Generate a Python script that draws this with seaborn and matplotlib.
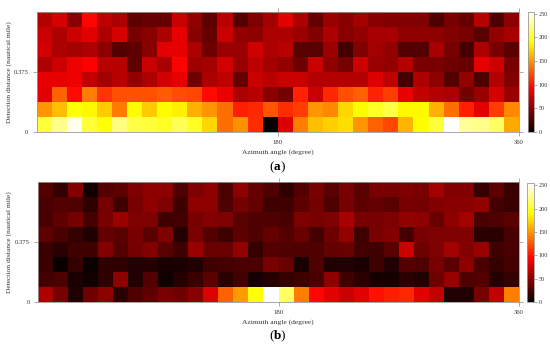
import numpy as np
import matplotlib
matplotlib.use("Agg")
import matplotlib.pyplot as plt
import seaborn as sns

# values, top row first, 32 azimuth bins
panel_a = [
    [65,78,48,95,68,62,32,35,35,72,52,32,66,28,44,58,82,62,35,55,48,58,48,45,45,45,25,42,35,65,25,50],
    [72,62,74,82,62,78,42,48,62,84,48,35,72,52,50,62,62,55,45,62,48,52,60,60,50,50,50,45,42,30,52,60],
    [76,62,58,62,50,28,32,48,82,84,62,38,55,55,75,62,66,30,30,55,22,45,58,52,28,28,60,42,22,62,42,30],
    [62,74,86,93,66,66,32,72,60,94,56,58,76,54,68,58,52,38,72,50,40,74,55,52,65,42,42,38,35,84,74,42],
    [84,84,87,70,58,66,52,62,76,84,38,62,68,34,72,66,72,72,64,64,64,64,80,68,22,62,50,28,52,25,64,46],
    [82,130,97,141,113,123,124,124,128,122,120,97,85,62,66,48,40,106,72,108,123,130,106,116,85,70,64,62,40,55,78,55],
    [150,166,192,188,170,140,190,170,190,185,160,150,135,105,108,125,110,116,150,145,175,190,200,208,188,188,160,135,105,82,116,145],
    [205,225,250,205,192,222,208,205,200,212,200,175,135,148,110,0,80,141,166,172,178,150,130,120,162,190,205,255,228,225,215,158],
]
panel_b = [
    [28,15,45,3,28,32,44,50,50,26,44,50,25,50,34,26,14,28,42,30,42,30,42,42,44,42,58,46,46,16,32,18],
    [24,28,26,14,40,20,42,50,44,20,50,50,26,40,34,20,20,32,40,25,42,32,34,30,42,40,46,48,48,52,22,18],
    [24,32,40,22,42,55,44,44,20,22,42,46,44,30,26,26,24,44,42,44,60,42,42,44,52,50,36,50,58,24,26,30],
    [32,24,16,8,34,30,42,30,44,10,42,28,20,32,26,34,28,36,22,38,52,20,42,46,22,42,44,44,46,12,12,24],
    [18,12,20,20,46,28,40,46,30,20,54,36,36,52,16,28,26,26,26,34,36,22,20,30,74,38,44,58,46,54,20,24],
    [18,0,16,0,14,14,8,10,5,6,8,20,22,24,24,42,36,6,26,8,8,6,20,8,28,26,42,30,50,24,16,22],
    [22,25,6,2,14,50,8,28,2,10,18,30,12,22,5,10,16,20,24,50,20,12,4,4,12,8,38,54,26,28,10,16],
    [62,42,8,38,50,12,26,32,42,38,48,80,130,152,192,255,215,141,95,82,73,82,99,104,108,82,70,8,8,42,70,141],
]
x_ticks = ["180", "360"]
y_ticks = ["0.375", "0"]
cbar_ticks = [0, 50, 100, 150, 200, 250]
panel_names = ["a", "b"]

plt.rcParams["font.family"] = ["Liberation Serif", "DejaVu Serif"]
W, H = 550, 347


def px_axes(fig, left, top, right, bottom):
    return fig.add_axes([left / W, 1 - bottom / H, (right - left) / W, (bottom - top) / H])


def draw_panel(fig, data, name, box, cbar_box, name_y):
    left, top, right, bottom = box
    ax = px_axes(fig, *box)
    cax = px_axes(fig, *cbar_box)
    sns.heatmap(np.array(data), ax=ax, cbar_ax=cax, cmap="hot", vmin=0, vmax=255,
                xticklabels=False, yticklabels=False, cbar_kws={"ticks": cbar_ticks})

    ax.set_xticks([16, 32], x_ticks)
    ax.set_yticks([4, 8], y_ticks, rotation=0)
    ax.tick_params(top=True, right=True, bottom=True, left=True, length=3, width=0.5,
                   color="#888888", labelcolor="#333333", labelsize=4.8, pad=3)
    for s in ax.spines.values():
        s.set_visible(True)
        s.set_color("#999999")
        s.set_linewidth(0.6)

    cbar = ax.collections[0].colorbar
    cax.tick_params(length=2, width=0.5, color="#888888", labelcolor="#333333", labelsize=4.4, pad=1.5)
    cbar.outline.set_visible(True)
    cbar.outline.set_edgecolor("#999999")
    cbar.outline.set_linewidth(0.6)

    fig.text(278 / W, 1 - (bottom + 20) / H, "Azimuth angle (degree)", ha="center", va="center",
             fontsize=5.4, color="#333333")
    fig.text(9.5 / W, 1 - (top + bottom) / 2 / H, "Detection distance (nautical mile)", ha="center",
             va="center", rotation=90, fontsize=5.4, color="#333333")
    # panel letter is bold, brackets are not
    fig.text(269.5 / W, 1 - name_y / H, "(", ha="left", va="center", fontsize=9.5)
    fig.text(273.5 / W, 1 - name_y / H, name, ha="left", va="center", fontsize=9.5, fontweight="bold")
    fig.text(280.5 / W, 1 - name_y / H, ")", ha="left", va="center", fontsize=9.5)


fig = plt.figure(figsize=(W / 100, H / 100), dpi=100)
draw_panel(fig, panel_a, panel_names[0], (36.5, 11.5, 519, 132), (527.5, 11.5, 534, 132), 167)
draw_panel(fig, panel_b, panel_names[1], (38, 182, 519, 302), (527, 183, 534, 302), 336)
fig.savefig("out.png", dpi=100)
